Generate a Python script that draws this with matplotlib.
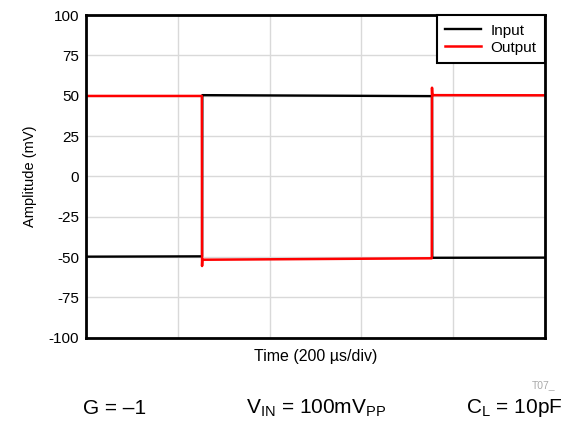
import matplotlib
matplotlib.use("Agg")
import matplotlib.pyplot as plt

plt.rcParams["font.family"] = ["Liberation Sans", "DejaVu Sans"]

# tiempo en us, amplitud en mV
t_input = [0, 253, 253.5, 754, 754.5, 1000]
v_input = [-49.7, -49.5, 50.4, 49.8, -50.4, -50.3]

t_output = [0, 252.5, 253, 253.5, 255, 753.5, 754, 754.5, 756, 1000]
v_output = [49.9, 49.9, -55.5, -51.7, -51.6, -50.7, 55.0, 50.6, 50.4, 50.3]

y_ticks = [100, 75, 50, 25, 0, -25, -50, -75, -100]
x_grid = [0, 200, 400, 600, 800, 1000]

fig = plt.figure(figsize=(5.73, 4.32), dpi=100)
ax = fig.add_axes([0.150, 0.218, 0.801, 0.747])

ax.plot(t_input, v_input, color="black", linewidth=1.7, label="Input")
ax.plot(t_output, v_output, color="#ff0000", linewidth=1.8, label="Output")

ax.set_xlim(0, 1000)
ax.set_ylim(-100, 100)
ax.set_yticks(y_ticks)
ax.set_yticklabels([str(v) for v in y_ticks], fontsize=11)
ax.set_xticks(x_grid)
ax.set_xticklabels([])
ax.tick_params(length=0, pad=5)
ax.grid(True, color="#d9d9d9", linewidth=1)
ax.set_axisbelow(True)
for s in ax.spines.values():
    s.set_linewidth(2)

ax.set_xlabel("Time (200 µs/div)", fontsize=11.5, labelpad=3)
ax.set_ylabel("Amplitude (mV)", fontsize=10.5, labelpad=8)

leg = ax.legend(loc="upper right", fontsize=11, fancybox=False, framealpha=1,
                edgecolor="black", borderaxespad=0, handlelength=2.35,
                borderpad=0.55, labelspacing=0.2, handletextpad=0.6)
leg.get_frame().set_linewidth(1.5)

fig.text(0.97, 0.108, "T07_", fontsize=7.5, color="#aaaaaa", ha="right", va="center")
fig.text(0.20, 0.055, "G = \u20131", fontsize=15, ha="center", va="center")
fig.text(0.552, 0.055, r"V$_{\mathregular{IN}}$ = 100mV$_{\mathregular{PP}}$",
         fontsize=15, ha="center", va="center")
fig.text(0.898, 0.055, r"C$_{\mathregular{L}}$ = 10pF", fontsize=15, ha="center", va="center")

fig.savefig("out.png", dpi=100)
